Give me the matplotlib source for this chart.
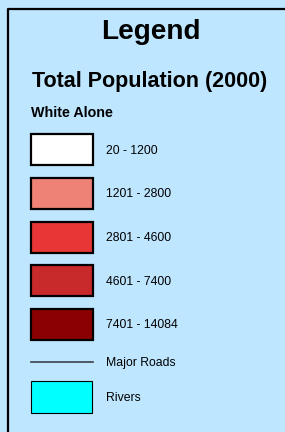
import matplotlib
import matplotlib.pyplot as plt
from matplotlib.patches import Rectangle

matplotlib.use('Agg')
plt.rcParams['font.family'] = ['Liberation Sans', 'DejaVu Sans']

# Legend classes (White Alone population)
class_labels = ["20 - 1200", "1201 - 2800", "2801 - 4600", "4601 - 7400", "7401 - 14084"]
class_colors = ["#ffffff", "#ee8277", "#e83535", "#c8292a", "#8b0000"]
road_label = "Major Roads"
river_label = "Rivers"
river_color = "#00ffff"

W, H = 285, 432
fig = plt.figure(figsize=(W / 100, H / 100), dpi=100)
fig.patch.set_facecolor("#bee6ff")
ax = fig.add_axes([0, 0, 1, 1])
ax.set_xlim(0, W)
ax.set_ylim(H, 0)
ax.axis("off")

# Outer frame: only top and left edges show, the rest runs off the image
ax.plot([8, 8, W - 1], [H, 9, 9], color="black", lw=1.6)

ax.text(151, 32, "Legend", ha="center", va="center", fontsize=20.2, fontweight="bold")
ax.text(32, 81, "Total Population (2000)", ha="left", va="center", fontsize=15.5, fontweight="bold")
ax.text(31, 113, "White Alone", ha="left", va="center", fontsize=10.3, fontweight="bold")

bx, bw, bh = 31, 62, 31
tx = 106
top0, step = 134, 43.75
for i, (lab, col) in enumerate(zip(class_labels, class_colors)):
    y = top0 + i * step
    # soft shadow
    ax.add_patch(Rectangle((bx + 1, y + 1), bw, bh, fc="#555555", ec="none", alpha=0.6))
    ax.add_patch(Rectangle((bx, y), bw, bh, fc=col, ec="black", lw=1.6))
    ax.text(tx, y + bh / 2 + 1, lab, ha="left", va="center", fontsize=8.8)

ax.plot([bx, bx + bw], [362, 362], color="#3a3f4a", lw=1.2)
ax.text(tx, 363, road_label, ha="left", va="center", fontsize=8.8)

ax.add_patch(Rectangle((bx, 381), 61, 32, fc=river_color, ec="black", lw=0.8))
ax.text(tx, 398, river_label, ha="left", va="center", fontsize=8.8)

fig.savefig("out.png", dpi=100, facecolor=fig.get_facecolor())
